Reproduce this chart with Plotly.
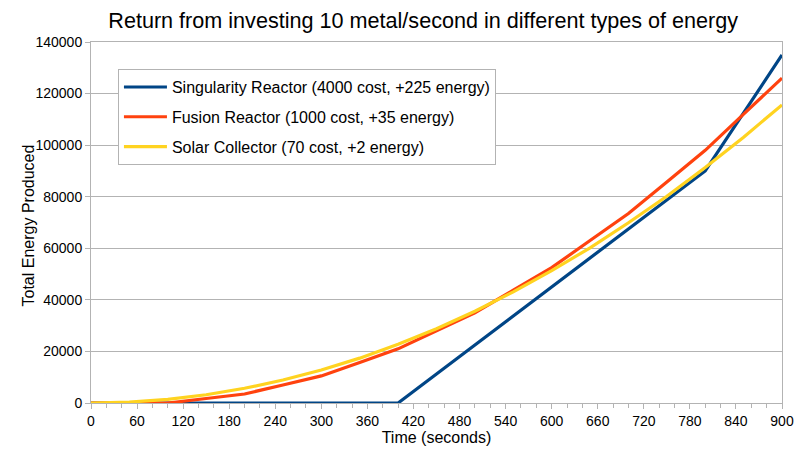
import plotly.graph_objects as go

# Time samples (seconds)
time_s = [0, 50, 100, 150, 200, 250, 300, 350, 400, 450, 500, 550, 600, 650, 700, 750, 800, 850, 900]

# Total energy produced
singularity = [0, 0, 0, 0, 0, 0, 0, 0, 0, 11250, 22500, 33750, 45000, 56250, 67500, 78750, 90000, 112500, 135000]
fusion = [0, 0, 0, 1750, 3500, 7000, 10500, 15750, 21000, 28000, 35000, 43750, 52500, 63000, 73500, 85750, 98000, 112000, 126000]
solar = [0, 350, 1400, 3200, 5700, 8900, 12800, 17400, 22800, 28800, 35600, 43100, 51300, 60200, 69900, 80200, 91300, 103100, 115600]

names = ["Singularity Reactor (4000 cost, +225 energy)",
         "Fusion Reactor (1000 cost, +35 energy)",
         "Solar Collector (70 cost, +2 energy)"]
colors = ["#004586", "#ff420e", "#ffd320"]

x_ticks = list(range(0, 901, 60))
y_ticks = list(range(0, 140001, 20000))

fig = go.Figure()
for i, (ys, nm, c) in enumerate(zip([singularity, fusion, solar], names, colors)):
    fig.add_trace(go.Scatter(x=time_s, y=ys, mode="lines", name=nm, legendgroup=f"g{i}",
                             line=dict(color=c, width=3.2)))

FONT = "Liberation Sans, Arial, sans-serif"
fig.update_layout(
    width=800, height=450,
    margin=dict(l=91, r=18, t=42, b=47, autoexpand=False),
    paper_bgcolor="white", plot_bgcolor="white",
    font=dict(family=FONT, color="#000000"),
    title=dict(text="Return from investing 10 metal/second in different types of energy",
               font=dict(size=21.6, family=FONT, color="#000000"),
               x=0.529, xanchor="center", y=0.955, yanchor="middle", xref="container"),
    showlegend=True,
    legend=dict(x=0.039, y=0.925, xanchor="left", yanchor="top",
                bgcolor="white", bordercolor="#b3b3b3", borderwidth=1,
                font=dict(size=16, family=FONT, color="#000000"),
                itemwidth=43, tracegroupgap=6),
    annotations=[dict(text="Total Energy Produced", textangle=-90,
                      xref="paper", yref="paper", x=-0.0905, y=0.493,
                      xanchor="center", yanchor="middle", showarrow=False,
                      font=dict(size=16, family=FONT, color="#000000"))],
)
fig.update_xaxes(
    range=[0, 900], tickvals=x_ticks, ticktext=[str(v) for v in x_ticks],
    showgrid=False, showline=True, linecolor="#b3b3b3", linewidth=1, mirror=True,
    ticks="outside", ticklen=5, tickcolor="#b3b3b3",
    minor=dict(dtick=20, tick0=0, ticks="outside", ticklen=4, tickcolor="#b3b3b3", showgrid=False),
    tickfont=dict(size=14, family=FONT, color="#000000"),
    title=dict(text="Time (seconds)", font=dict(size=16, family=FONT, color="#000000"), standoff=0),
    zeroline=False, automargin=False,
)
fig.update_yaxes(
    range=[0, 140000], tickvals=y_ticks, ticktext=[str(v) for v in y_ticks],
    showgrid=True, gridcolor="#b3b3b3", gridwidth=1,
    showline=True, linecolor="#b3b3b3", linewidth=1, mirror=True,
    ticks="outside", ticklen=5, tickcolor="#b3b3b3",
    tickfont=dict(size=14, family=FONT, color="#000000"),
    zeroline=False, automargin=False,
)
fig.write_html("out.html")
